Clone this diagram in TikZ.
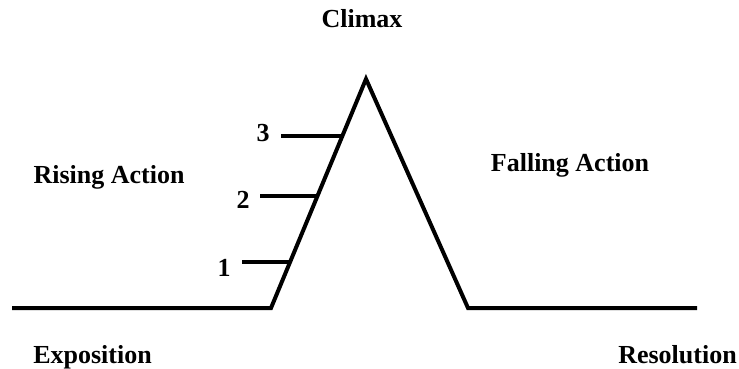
\documentclass[tikz,border=0pt]{standalone}
\usepackage{fontspec}
\setmainfont{Liberation Serif}
\begin{document}
\begin{tikzpicture}[x=1pt,y=-1pt,
  plot/.style={line width=4pt,line join=miter},
  lbl/.style={font=\fontsize{26}{30}\selectfont\bfseries,inner sep=0pt,anchor=base}]
\useasboundingbox (0,0) rectangle (739,369);
\coordinate (a) at (12,308);
\coordinate (b) at (271,308);
\coordinate (c) at (366,79);
\coordinate (d) at (468,308);
\coordinate (e) at (697,308);
\draw[plot] (a) -- (b) -- (c) -- (d) -- (e);
\coordinate (t3s) at (281,136);
\coordinate (t3e) at (343,136);
\coordinate (t2s) at (260,196);
\coordinate (t2e) at (318,196);
\coordinate (t1s) at (242,262);
\coordinate (t1e) at (290,262);
\draw[plot] (t3s) -- (t3e);
\draw[plot] (t2s) -- (t2e);
\draw[plot] (t1s) -- (t1e);
\node[lbl] (n3) at (263,141) {3};
\node[lbl] (n2) at (243,208) {2};
\node[lbl] (n1) at (224,276) {1};
\node[lbl] (climax) at (362,28) {Climax};
\node[lbl] (rising) at (109,183) {Rising Action};
\node[lbl] (falling) at (570,171) {Falling Action};
\node[lbl] (expo) at (92.5,363) {Exposition};
\node[lbl] (reso) at (677.5,363) {Resolution};
\end{tikzpicture}
\end{document}
